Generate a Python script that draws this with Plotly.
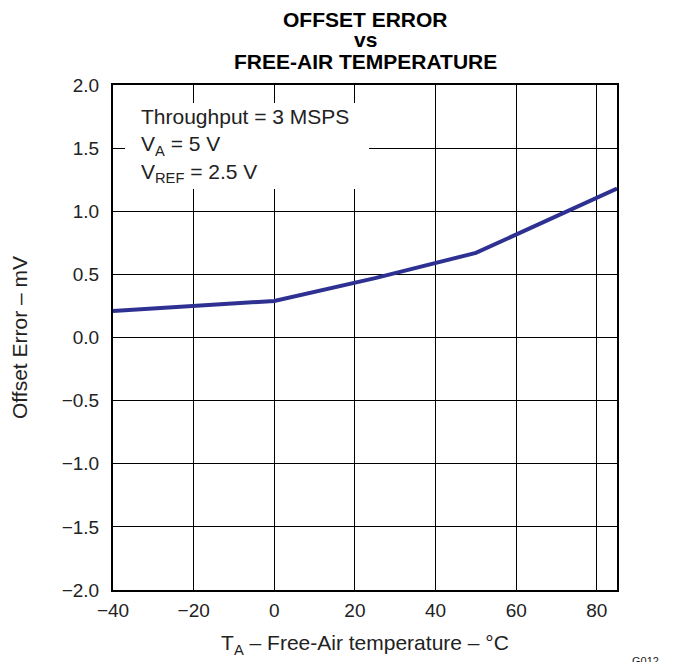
import plotly.graph_objects as go

temperature_c = [-40, -20, 0, 25, 50, 85]
offset_error_mv = [0.21, 0.25, 0.29, 0.47, 0.67, 1.18]

x_ticks = [-40, -20, 0, 20, 40, 60, 80]
y_ticks = [-2.0, -1.5, -1.0, -0.5, 0.0, 0.5, 1.0, 1.5, 2.0]
y_tick_labels = ["\u22122.0", "\u22121.5", "\u22121.0", "\u22120.5", "0.0", "0.5", "1.0", "1.5", "2.0"]
x_tick_labels = ["\u221240", "\u221220", "0", "20", "40", "60", "80"]
title_lines = ["OFFSET ERROR", "vs", "FREE-AIR TEMPERATURE"]

FONT = "Liberation Sans, Arial, sans-serif"

fig = go.Figure()
fig.add_trace(go.Scatter(
    x=temperature_c, y=offset_error_mv, mode="lines",
    line=dict(color="#2E3192", width=4), showlegend=False,
))

fig.update_layout(
    width=666, height=654,
    margin=dict(l=105, r=57, t=77, b=72, autoexpand=False),
    paper_bgcolor="white", plot_bgcolor="white",
    font=dict(family=FONT, color="#222222", size=20),
    xaxis=dict(
        range=[-40, 85], tickvals=x_ticks, ticktext=x_tick_labels,
        showgrid=True, gridcolor="black", gridwidth=1,
        showline=True, linecolor="black", linewidth=2, mirror=True,
        zeroline=False, ticks="", ticklabelstandoff=2,
        tickfont=dict(size=19),
        title=dict(text="T<sub>A</sub> \u2013 Free-Air temperature \u2013 \u00b0C",
                   font=dict(size=21), standoff=16),
    ),
    yaxis=dict(
        range=[-2.0, 2.0], tickvals=y_ticks, ticktext=y_tick_labels,
        showgrid=True, gridcolor="black", gridwidth=1,
        showline=True, linecolor="black", linewidth=2, mirror=True,
        zeroline=False, ticks="", ticklabelstandoff=8,
        tickfont=dict(size=19),
        title=dict(text="Offset Error \u2013 mV", font=dict(size=21), standoff=29),
    ),
)

# white background box behind the conditions note
fig.add_shape(
    type="rect", xref="paper", yref="paper",
    x0=0.0238, x1=0.508, y0=0.7941, y1=0.9643,
    fillcolor="white", line=dict(width=0), layer="above",
)

title_y = [1.1293, 1.0909, 1.0461]
for line, yy in zip(title_lines, title_y):
    fig.add_annotation(
        xref="paper", yref="paper", x=0.5, y=yy, xanchor="center", yanchor="middle",
        text="<b>" + line + "</b>", showarrow=False,
        font=dict(size=21, color="black"),
    )

fig.add_annotation(
    xref="paper", yref="paper", x=0.054, y=0.9624, xanchor="left", yanchor="top",
    text="Throughput = 3 MSPS<br>V<sub>A</sub> = 5 V<br>V<sub>REF</sub> = 2.5 V",
    align="left", showarrow=False, borderpad=0,
    font=dict(size=21, color="#222222"),
)

fig.add_annotation(
    xref="paper", yref="paper", x=1.0556, y=-0.1405,
    xanchor="center", yanchor="middle", text="G012", showarrow=False,
    font=dict(size=11, color="#222222"),
)

fig.write_html("out.html")
